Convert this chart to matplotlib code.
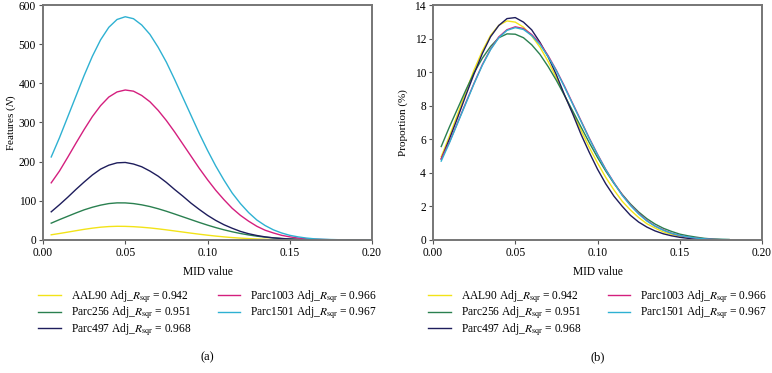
import matplotlib
matplotlib.use("Agg")
import matplotlib.pyplot as plt

plt.rcParams['font.family'] = ['Liberation Serif', 'DejaVu Serif']
plt.rcParams['mathtext.fontset'] = 'stix'

# MID value grid
mid = [0.005, 0.010, 0.015, 0.020, 0.025, 0.030, 0.035, 0.040, 0.045, 0.050,
       0.055, 0.060, 0.065, 0.070, 0.075, 0.080, 0.085, 0.090, 0.095, 0.100,
       0.105, 0.110, 0.115, 0.120, 0.125, 0.130, 0.135, 0.140, 0.145, 0.150,
       0.155, 0.160, 0.165, 0.170, 0.175, 0.180, 0.185, 0.190, 0.195, 0.200]

# (a) feature counts
n_aal90 = [13.3, 16.6, 20.1, 23.7, 27.2, 30.2, 32.7, 34.3, 35.0, 34.8,
           34.0, 32.6, 30.8, 28.5, 25.9, 23.1, 20.3, 17.5, 14.8, 12.3,
           10.0, 8.0, 6.2, 4.8, 3.6, 2.6, 1.9, 1.3, 0.9, 0.6,
           0.4, 0.25, 0.15, 0.1, 0.05, 0, 0, 0, 0, 0]
n_parc256 = [43, 52, 60.5, 69, 77, 83.6, 89, 93, 94.8, 94.7,
             93, 89.8, 85.4, 79.8, 73.4, 66.4, 59.2, 52, 44.8, 38,
             31.7, 26, 21, 16.6, 12.9, 9.8, 7.3, 5.4, 3.9, 2.7,
             1.9, 1.3, 0.8, 0.5, 0.3, 0.2, 0.1, 0, 0, 0]
n_parc497 = [72, 90, 109, 129, 148, 166, 181, 191, 197, 198,
             194, 187, 176, 163, 147, 129, 112, 94, 78, 63,
             50, 39, 30, 22, 16, 11.5, 8, 5.5, 3.7, 2.4,
             1.5, 1.0, 0.6, 0.3, 0.2, 0.1, 0, 0, 0, 0]
n_parc1003 = [146, 176, 211, 247, 282, 315, 343, 365, 378, 383,
              380, 369, 353, 331, 305, 276, 245, 214, 183, 154,
              127, 103, 81, 63, 48, 35, 25, 18, 12, 8,
              5.0, 3.2, 2.0, 1.2, 0.7, 0.4, 0.2, 0.1, 0, 0]
n_parc1501 = [212, 261, 314, 367, 420, 469, 511, 543, 563, 570,
              565, 549, 525, 492, 454, 410, 364, 318, 272, 229,
              189, 153, 120, 93, 70, 51, 37, 26, 18, 12,
              8.0, 5.0, 3.0, 2.0, 1.2, 0.7, 0.3, 0.1, 0, 0]

# (b) proportions (%), drawn up to 0.18
p_aal90 = [4.96, 6.19, 7.50, 8.84, 10.14, 11.26, 12.19, 12.79, 13.05, 12.98,
           12.68, 12.16, 11.49, 10.63, 9.66, 8.61, 7.57, 6.53, 5.52, 4.59,
           3.73, 2.98, 2.31, 1.79, 1.34, 0.97, 0.71, 0.48, 0.34, 0.22,
           0.15, 0.09, 0.06, 0.04, 0.02, 0.0]
p_parc256 = [5.57, 6.74, 7.84, 8.94, 9.97, 10.83, 11.53, 12.05, 12.28, 12.26,
             12.05, 11.63, 11.06, 10.33, 9.51, 8.60, 7.67, 6.73, 5.80, 4.92,
             4.11, 3.37, 2.72, 2.15, 1.67, 1.27, 0.95, 0.70, 0.51, 0.35,
             0.25, 0.17, 0.10, 0.06, 0.04, 0.03]
p_parc497 = [4.82, 6.02, 7.30, 8.63, 9.91, 11.11, 12.11, 12.78, 13.19, 13.25,
             12.98, 12.52, 11.78, 10.91, 9.84, 8.63, 7.50, 6.29, 5.22, 4.22,
             3.35, 2.61, 2.01, 1.47, 1.07, 0.77, 0.54, 0.37, 0.25, 0.16,
             0.10, 0.07, 0.04, 0.02, 0.01, 0.01]
p_parc1003 = [4.84, 5.84, 7.00, 8.19, 9.35, 10.45, 11.37, 12.10, 12.53, 12.70,
              12.60, 12.24, 11.71, 10.98, 10.11, 9.15, 8.12, 7.10, 6.07, 5.11,
              4.21, 3.42, 2.69, 2.09, 1.59, 1.16, 0.83, 0.60, 0.40, 0.27,
              0.17, 0.11, 0.07, 0.04, 0.02, 0.01]
p_parc1501 = [4.70, 5.79, 6.97, 8.14, 9.32, 10.41, 11.34, 12.05, 12.49, 12.65,
              12.54, 12.18, 11.65, 10.92, 10.08, 9.10, 8.08, 7.06, 6.04, 5.08,
              4.19, 3.40, 2.66, 2.06, 1.55, 1.13, 0.82, 0.58, 0.40, 0.27,
              0.18, 0.11, 0.07, 0.04, 0.03, 0.02]

labels = ["AAL90 Adj_$R_{\\mathrm{sqr}}$ = 0.942",
          "Parc256 Adj_$R_{\\mathrm{sqr}}$ = 0.951",
          "Parc497 Adj_$R_{\\mathrm{sqr}}$ = 0.968",
          "Parc1003 Adj_$R_{\\mathrm{sqr}}$ = 0.966",
          "Parc1501 Adj_$R_{\\mathrm{sqr}}$ = 0.967"]
colors = ["#f2e318", "#2a8050", "#1e1d5c", "#d41f7e", "#2eb1d2"]

fig = plt.figure(figsize=(7.72, 3.73), dpi=100)
ax_a = fig.add_axes([43/772, 133/373, 329/772, 235/373])
ax_b = fig.add_axes([433/772, 133/373, 329/772, 235/373])

series_a = [n_aal90, n_parc256, n_parc497, n_parc1003, n_parc1501]
series_b = [p_aal90, p_parc256, p_parc497, p_parc1003, p_parc1501]

for ys, c, lab in zip(series_a, colors, labels):
    ax_a.plot(mid, ys, color=c, lw=1.0, label=lab)
for ys, c, lab in zip(series_b, colors, labels):
    ax_b.plot(mid[:len(ys)], ys, color=c, lw=1.0, label=lab)

fs = 8.3
ax_a.set_ylim(0, 600)
ax_a.set_yticks(range(0, 601, 100))
ax_a.set_ylabel("Features ($N$)", fontsize=8)
ax_a.yaxis.set_label_coords(-0.077, 0.5)
ax_b.set_ylim(0, 14)
ax_b.set_yticks(range(0, 15, 2))
ax_b.set_ylabel("Proportion (%)", fontsize=8)
ax_b.yaxis.set_label_coords(-0.075, 0.5)

for ax, tag in [(ax_a, "(a)"), (ax_b, "(b)")]:
    ax.set_xlim(0, 0.2)
    ax.set_xticks([0, 0.05, 0.10, 0.15, 0.20])
    ax.set_xticklabels(["0.00", "0.05", "0.10", "0.15", "0.20"])
    ax.set_xlabel("MID value", fontsize=fs, labelpad=5)
    ax.tick_params(labelsize=fs, length=3, width=0.8, color="#555555", pad=2)
    for s in ax.spines.values():
        s.set_color("#767676")
        s.set_linewidth(1.4)
    ax.legend(loc="upper center", bbox_to_anchor=(0.5, -0.162), ncol=2,
              frameon=False, fontsize=fs, handlelength=1.95,
              columnspacing=2.3, labelspacing=0.0, handletextpad=0.85)
    pos = ax.get_position()
    fig.text(pos.x0 + pos.width / 2, 16/373, tag, ha="center", va="center",
             fontsize=9)

fig.savefig("out.png", dpi=100)
